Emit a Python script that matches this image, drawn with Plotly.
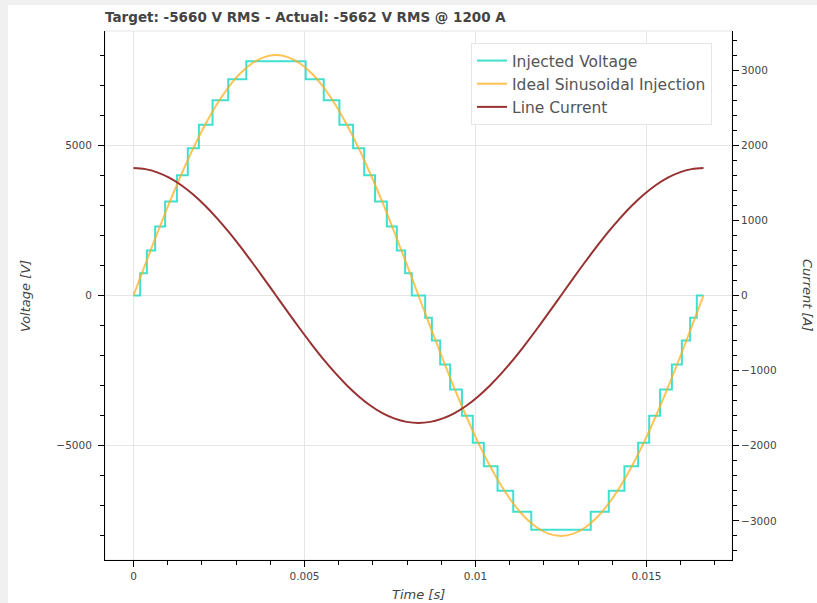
import plotly.graph_objects as go

# ---- data ----
title_text = "Target: -5660 V RMS - Actual: -5662 V RMS @ 1200 A"

# Injected (staircase) voltage: switching instants [s] and held levels [V]
inj_t = [0, 0.000196, 0.000391, 0.000633, 0.000925, 0.00127, 0.001588, 0.001912,
         0.002312, 0.00277, 0.003298, 0.005035, 0.005563, 0.006021, 0.006421,
         0.006745, 0.007063, 0.007408, 0.0077, 0.007942, 0.008137, 0.008529,
         0.008724, 0.008966, 0.009258, 0.009603, 0.009921, 0.010245, 0.010645,
         0.011103, 0.011631, 0.013369, 0.013897, 0.014355, 0.014755, 0.015079,
         0.015397, 0.015742, 0.016034, 0.016276, 0.016471, 0.016667]
inj_v = [0, 740, 1500, 2300, 3130, 4000, 4900, 5680, 6500, 7200, 7800,
         7200, 6500, 5680, 4900, 4000, 3130, 2300, 1500, 740, 0,
         -740, -1500, -2300, -3130, -4000, -4900, -5680, -6500, -7200, -7800,
         -7200, -6500, -5680, -4900, -4000, -3130, -2300, -1500, -740, 0, 0]

# Ideal sinusoidal injection and line current, read every 1/48 period
t_s = [0, 0.000347, 0.000694, 0.001042, 0.001389, 0.001736, 0.002083, 0.002431,
       0.002778, 0.003125, 0.003472, 0.003819, 0.004167, 0.004514, 0.004861,
       0.005208, 0.005556, 0.005903, 0.00625, 0.006597, 0.006944, 0.007292,
       0.007639, 0.007986, 0.008333, 0.00868, 0.009028, 0.009375, 0.009722,
       0.010069, 0.010417, 0.010764, 0.011111, 0.011458, 0.011806, 0.012153,
       0.0125, 0.012847, 0.013194, 0.013542, 0.013889, 0.014236, 0.014583,
       0.014931, 0.015278, 0.015625, 0.015972, 0.016319, 0.016667]
ideal_v = [0, 1045, 2072, 3063, 4002, 4873, 5660, 6350, 6932, 7395, 7731, 7936,
           8004, 7936, 7731, 7395, 6932, 6350, 5660, 4873, 4002, 3063, 2072, 1045,
           0, -1045, -2072, -3063, -4002, -4873, -5660, -6350, -6932, -7395, -7731,
           -7936, -8004, -7936, -7731, -7395, -6932, -6350, -5660, -4873, -4002,
           -3063, -2072, -1045, 0]
current_a = [1697, 1682, 1639, 1568, 1470, 1346, 1200, 1033, 849, 649, 439, 222,
             0, -222, -439, -649, -849, -1033, -1200, -1346, -1470, -1568, -1639,
             -1682, -1697, -1682, -1639, -1568, -1470, -1346, -1200, -1033, -849,
             -649, -439, -222, 0, 222, 439, 649, 849, 1033, 1200, 1346, 1470, 1568,
             1639, 1682, 1697]

v_ticks = [-5000, 0, 5000]
a_ticks = [-3000, -2000, -1000, 0, 1000, 2000, 3000]
x_ticks = [0, 0.005, 0.01, 0.015]
x_ticktext = ["0", "0.005", "0.01", "0.015"]

# ---- styling ----
FONT = "DejaVu Sans, Verdana, sans-serif"
TXT = "#444444"
GRID = "#e5e5e5"
W, H = 817, 603
L, R, T, B = 105, 732, 31, 560   # plot frame in px
PW, PH = R - L, B - T


def px_x(px):
    return (px - L) / PW


def px_y(py):
    return (B - py) / PH


fig = go.Figure()
fig.add_trace(go.Scatter(x=inj_t, y=inj_v, mode="lines", line_shape="hv",
                         name="Injected Voltage",
                         line=dict(color="#40E0D0", width=2), legendgroup="a"))
fig.add_trace(go.Scatter(x=t_s, y=ideal_v, mode="lines", line_shape="spline",
                         name="Ideal Sinusoidal Injection",
                         line=dict(color="rgba(255,175,30,0.75)", width=2), legendgroup="b"))
fig.add_trace(go.Scatter(x=t_s, y=current_a, mode="lines", line_shape="spline",
                         name="Line Current", yaxis="y2",
                         line=dict(color="#983232", width=2), legendgroup="c"))

axis_common = dict(showline=True, linecolor="#000000", linewidth=1,
                   ticks="outside", ticklen=6, tickcolor="#000000",
                   tickfont=dict(family=FONT, size=10.5, color=TXT),
                   zeroline=False, automargin=False)

fig.update_layout(
    width=W, height=H,
    margin=dict(l=L, r=W - R, t=T, b=H - B, pad=0),
    paper_bgcolor="white", plot_bgcolor="white",
    font=dict(family=FONT, color=TXT),
    title=dict(text="<b>" + title_text + "</b>", x=L / W, xanchor="left",
               y=1 - 17 / H, yanchor="middle",
               font=dict(family=FONT, size=13.5, color=TXT)),
    xaxis=dict(range=[-0.000833, 0.0175], tickvals=x_ticks, ticktext=x_ticktext,
               showgrid=True, gridcolor=GRID, gridwidth=1,
               minor=dict(dtick=0.001, tick0=0, ticks="outside", ticklen=4,
                          tickcolor="#000000", showgrid=False),
               **axis_common),
    yaxis=dict(range=[-8804, 8804], tickvals=v_ticks, ticklabelstandoff=4,
               showgrid=True, gridcolor=GRID, gridwidth=1,
               minor=dict(dtick=1000, tick0=0, ticks="outside", ticklen=4,
                          tickcolor="#000000", showgrid=False),
               **axis_common),
    yaxis2=dict(range=[-3520, 3520], tickvals=a_ticks, overlaying="y", side="right",
                anchor="x", showgrid=False,
                minor=dict(dtick=200, tick0=0, ticks="outside", ticklen=4,
                           tickcolor="#000000", showgrid=False),
                **axis_common),
    legend=dict(x=px_x(471), y=px_y(43),
                xanchor="left", yanchor="top",
                bgcolor="white", bordercolor=GRID, borderwidth=1,
                font=dict(family=FONT, size=15.5, color="#555555"),
                tracegroupgap=0, itemwidth=30),
    showlegend=True,
)

# plot outline
fig.add_shape(type="rect", xref="paper", yref="paper", x0=0, x1=1, y0=0, y1=1,
              line=dict(color=GRID, width=1), layer="below")
# light grey page strips at the left and top edges
fig.add_shape(type="rect", xref="paper", yref="paper",
              x0=px_x(0), x1=px_x(8), y0=px_y(H), y1=px_y(0),
              fillcolor="#f0f0f0", line=dict(width=0), layer="below")
fig.add_shape(type="rect", xref="paper", yref="paper",
              x0=px_x(0), x1=px_x(W), y0=px_y(5), y1=px_y(0),
              fillcolor="#f0f0f0", line=dict(width=0), layer="below")

# axis titles
fig.add_annotation(text="Time [s]", xref="paper", yref="paper",
                   x=0.5, y=px_y(594), xanchor="center", yanchor="middle",
                   showarrow=False,
                   font=dict(family=FONT, size=13, color=TXT, style="italic"))
fig.add_annotation(text="Voltage [V]", xref="paper", yref="paper",
                   x=px_x(25), y=px_y(296), xanchor="center",
                   yanchor="middle", textangle=-90, showarrow=False,
                   font=dict(family=FONT, size=13, color=TXT, style="italic"))
fig.add_annotation(text="Current [A]", xref="paper", yref="paper",
                   x=px_x(808), y=px_y(296), xanchor="center",
                   yanchor="middle", textangle=90, showarrow=False,
                   font=dict(family=FONT, size=13, color=TXT, style="italic"))

fig.write_html("out.html", config={"displayModeBar": False},
               post_script="document.body.style.margin='0px';")
